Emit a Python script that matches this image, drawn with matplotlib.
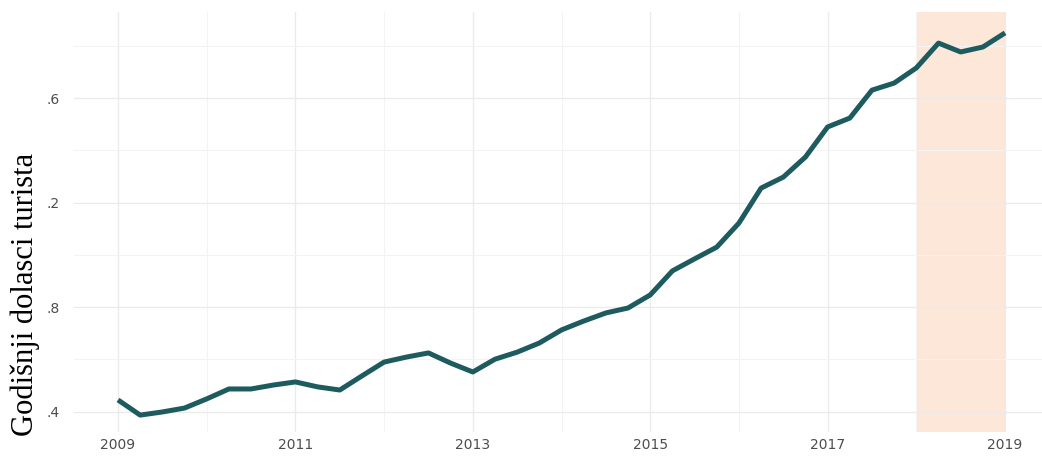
import matplotlib
matplotlib.use("Agg")
import matplotlib.pyplot as plt
import numpy as np

# Quarterly time points 2009.00 .. 2019.00
quarters = [2009 + 0.25 * i for i in range(41)]
arrivals = [1.445, 1.387, 1.399, 1.414, 1.449, 1.487, 1.487, 1.502, 1.514, 1.495,
            1.483, 1.537, 1.590, 1.609, 1.625, 1.586, 1.552, 1.601, 1.628, 1.663,
            1.713, 1.747, 1.778, 1.797, 1.847, 1.939, 1.985, 2.030, 2.122, 2.256,
            2.298, 2.375, 2.490, 2.524, 2.631, 2.658, 2.716, 2.811, 2.777, 2.796,
            2.850]
highlight = (2018.0, 2019.0)
x_ticks = [2009, 2011, 2013, 2015, 2017, 2019]
x_minor = [2010, 2012, 2014, 2016, 2018]
y_ticks = [1.4, 1.8, 2.2, 2.6]
y_tick_labels = [".4", ".8", ".2", ".6"]
y_minor = [1.6, 2.0, 2.4, 2.8]
y_label = "Godišnji dolasci turista"

W, H = 1042, 463
fig = plt.figure(figsize=(W / 100, H / 100), dpi=100)
left_px, right_px = 73.65, 1049.4
top_px, bot_px = 12, 432
ax = fig.add_axes([left_px / W, 1 - bot_px / H, (right_px - left_px) / W, (bot_px - top_px) / H])

ax.axvspan(highlight[0], highlight[1], color="#fde7d8", zorder=0.5, lw=0)
ax.plot(quarters, arrivals, color="#1d5b5f", lw=3.6, solid_capstyle="butt",
        solid_joinstyle="round", zorder=3)

ax.set_xlim(2008.5, 2019.5)
ax.set_ylim(1.3223, 2.930)
ax.set_xticks(x_ticks)
ax.set_xticks(x_minor, minor=True)
ax.set_yticks(y_ticks)
ax.set_yticklabels(y_tick_labels)
ax.set_yticks(y_minor, minor=True)

ax.grid(which="major", color="#ebebeb", lw=1.0, zorder=0)
ax.grid(which="minor", color="#f3f3f3", lw=0.8, zorder=0)
ax.set_axisbelow(True)
for s in ax.spines.values():
    s.set_visible(False)
ax.tick_params(which="both", length=0)
ax.tick_params(axis="x", pad=4, labelsize=10, labelcolor="#4d4d4d")
ax.tick_params(axis="y", pad=10, labelsize=10, labelcolor="#4d4d4d")

fig.text(25.5 / W, 1 - 294.5 / H, y_label, rotation=90, ha="center", va="center",
         fontsize=22, family="Liberation Serif", color="black")

fig.savefig("out.png", dpi=100)
